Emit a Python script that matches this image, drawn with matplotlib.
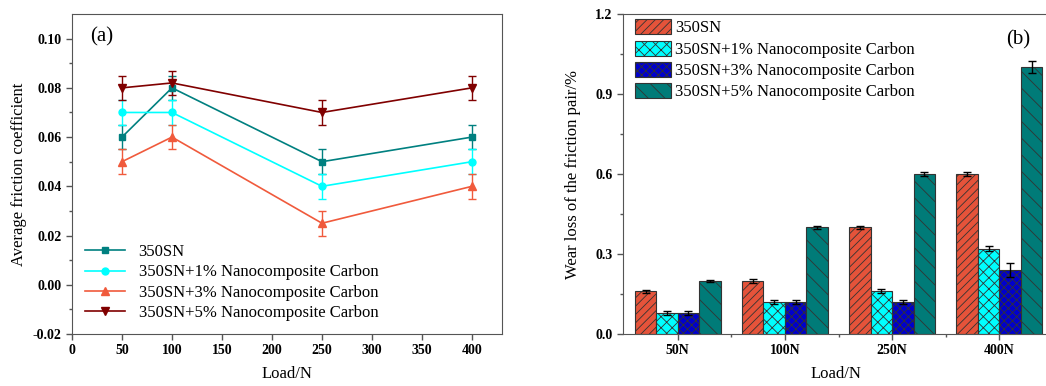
import numpy as np
import matplotlib
matplotlib.use('Agg')
import matplotlib.pyplot as plt

plt.rcParams['font.family'] = ['Liberation Serif', 'DejaVu Serif']
plt.rcParams['hatch.linewidth'] = 0.6
plt.rcParams['axes.edgecolor'] = '#555555'

# ── data ──
loads = [50, 100, 250, 400]
series = ['350SN', '350SN+1% Nanocomposite Carbon',
          '350SN+3% Nanocomposite Carbon', '350SN+5% Nanocomposite Carbon']

friction_0 = [0.060, 0.080, 0.050, 0.060]
friction_1 = [0.070, 0.070, 0.040, 0.050]
friction_3 = [0.050, 0.060, 0.025, 0.040]
friction_5 = [0.080, 0.082, 0.070, 0.080]
friction_err = [0.005, 0.005, 0.005, 0.005]

load_labels = ['50N', '100N', '250N', '400N']
wear_0 = [0.16, 0.20, 0.40, 0.60]
wear_1 = [0.08, 0.12, 0.16, 0.32]
wear_3 = [0.08, 0.12, 0.12, 0.24]
wear_5 = [0.20, 0.40, 0.60, 1.00]
wear_err_0 = [0.006, 0.008, 0.006, 0.008]
wear_err_1 = [0.008, 0.008, 0.008, 0.010]
wear_err_3 = [0.008, 0.008, 0.008, 0.025]
wear_err_5 = [0.004, 0.006, 0.006, 0.022]

fig = plt.figure(figsize=(10.46, 3.86), dpi=100)

# ── (a) friction coefficient ──
ax1 = fig.add_axes([0.0688, 0.1347, 0.4111, 0.829])
line_styles = [('#008080', 's', 4.5), ('#00FFFF', 'o', 5),
               ('#F05A3C', '^', 5.5), ('#800000', 'v', 5.5)]
handles = []
for vals, name, (c, m, ms) in zip([friction_0, friction_1, friction_3, friction_5],
                                  series, line_styles):
    cont = ax1.errorbar(loads, vals, yerr=friction_err, color=c, marker=m, ms=ms,
                        lw=1.2, capsize=3, elinewidth=1, capthick=1, label=name)
    handles.append(cont[0])
ax1.set_xlim(0, 430)
ax1.set_ylim(-0.02, 0.11)
ax1.set_xticks(np.arange(0, 401, 50))
ax1.set_yticks(np.arange(-0.02, 0.101, 0.02))
ax1.set_yticks(np.arange(-0.01, 0.11, 0.02), minor=True)
ax1.yaxis.set_major_formatter(matplotlib.ticker.FormatStrFormatter('%.2f'))
ax1.tick_params(direction='out', length=4, width=1, labelsize=10, color='#555555')
ax1.tick_params(which='minor', direction='out', length=2.5, width=1, color='#555555')
for lab in ax1.get_xticklabels() + ax1.get_yticklabels():
    lab.set_fontweight('bold')
ax1.set_xlabel('Load/N', fontsize=12, labelpad=6)
ax1.set_ylabel('Average friction coefficient', fontsize=12)
ax1.text(0.07, 0.93, '(a)', transform=ax1.transAxes, fontsize=15, ha='center', va='center')
ax1.legend(handles, series, loc='lower left', bbox_to_anchor=(0.0, 0.0), frameon=False,
           fontsize=12, handlelength=2.4, labelspacing=0.25, borderaxespad=0.4)

# ── (b) wear loss ──
ax2 = fig.add_axes([0.5956, 0.1347, 0.408, 0.829])
x = np.arange(len(load_labels))
w = 0.2
bar_styles = [('#E5533A', '////'), ('#00FFFF', 'xxx'),
              ('#0000CD', 'xxxx'), ('#007B78', '\\\\')]
wear_all = [wear_0, wear_1, wear_3, wear_5]
err_all = [wear_err_0, wear_err_1, wear_err_3, wear_err_5]
for i, (vals, errs, name, (c, h)) in enumerate(zip(wear_all, err_all, series, bar_styles)):
    ax2.bar(x + (i - 1.5) * w, vals, w, yerr=errs, color=c, hatch=h,
            edgecolor='#333333', lw=0.8, label=name,
            error_kw=dict(capsize=3, elinewidth=1, capthick=1, ecolor='black'))
ax2.set_xlim(-0.51, 3.47)
ax2.set_ylim(0, 1.2)
ax2.set_xticks(x)
ax2.set_xticklabels(load_labels)
ax2.set_xticks(x[:-1] + 0.5, minor=True)
ax2.set_yticks(np.arange(0, 1.21, 0.3))
ax2.set_yticks(np.arange(0.15, 1.2, 0.3), minor=True)
ax2.yaxis.set_major_formatter(matplotlib.ticker.FormatStrFormatter('%.1f'))
ax2.tick_params(direction='out', length=4, width=1, labelsize=10, color='#555555')
ax2.tick_params(which='minor', direction='out', length=2.5, width=1, color='#555555')
for lab in ax2.get_xticklabels() + ax2.get_yticklabels():
    lab.set_fontweight('bold')
ax2.spines['right'].set_visible(False)
ax2.set_xlabel('Load/N', fontsize=12, labelpad=6)
ax2.set_ylabel('Wear loss of the friction pair/%', fontsize=12, labelpad=10)
ax2.text(0.925, 0.92, '(b)', transform=ax2.transAxes, fontsize=15, ha='center', va='center')
ax2.legend(loc='upper left', bbox_to_anchor=(0.0, 1.02), frameon=False, fontsize=12,
           handlelength=2.2, handleheight=1.0, labelspacing=0.25, borderaxespad=0.3,
           handletextpad=0.25)

fig.savefig('out.png', dpi=100)
